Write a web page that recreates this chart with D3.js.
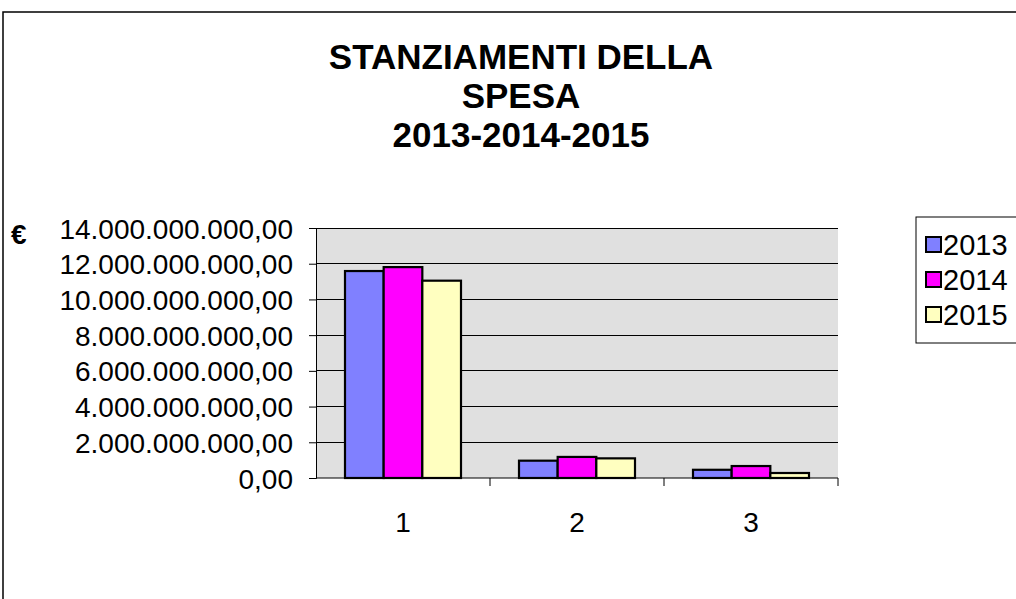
<!DOCTYPE html>
<html>
<head>
    <meta charset="utf-8">
    <title>Stanziamenti della spesa</title>
    <script src="https://d3js.org/d3.v7.min.js"></script>
    <style>
        body { margin: 0; padding: 0; background: #fff; }
        text { font-family: Arial, "Liberation Sans", sans-serif; fill: #000; }
    </style>
</head>
<body>
    <svg width="1016" height="599"></svg>
    <script>
        // data (euro)
        const categories = ["1", "2", "3"];
        const years = ["2013", "2014", "2015"];
        const values2013 = [11590000000, 970000000, 460000000];
        const values2014 = [11810000000, 1180000000, 670000000];
        const values2015 = [11050000000, 1100000000, 280000000];
        const yTicks = [0, 2e9, 4e9, 6e9, 8e9, 10e9, 12e9, 14e9];
        const titleLines = ["STANZIAMENTI DELLA", "SPESA", "2013-2014-2015"];
        const colors = ["#8080ff", "#ff00ff", "#ffffc0"];

        const seriesValues = [values2013, values2014, values2015];
        const data = categories.map((c, i) => ({
            cat: c,
            vals: years.map((y, j) => ({ year: y, value: seriesValues[j][i], color: colors[j] }))
        }));

        const svg = d3.select("svg");
        const plot = { left: 316, right: 838, top: 228, bottom: 478 };

        // outer chart frame (runs off the page right/bottom)
        svg.append("rect")
            .attr("x", 3).attr("y", 12)
            .attr("width", 1100).attr("height", 700)
            .attr("fill", "none").attr("stroke", "#000").attr("stroke-width", 1.5);

        const itLocale = d3.formatLocale({ decimal: ",", thousands: ".", grouping: [3], currency: ["", "€"] });
        const fmt = itLocale.format(",.2f");

        const x0 = d3.scaleBand().domain(categories).range([plot.left, plot.right]);
        const x1 = d3.scaleBand().domain(years).range([0, x0.bandwidth()])
            .paddingInner(0).paddingOuter(0.75);
        const y = d3.scaleLinear().domain([0, 14e9]).range([plot.bottom, plot.top]);

        // plot area background
        svg.append("rect")
            .attr("x", plot.left).attr("y", plot.top)
            .attr("width", plot.right - plot.left).attr("height", plot.bottom - plot.top)
            .attr("fill", "#e0e0e0");

        // gridlines
        svg.append("g").selectAll("line").data(yTicks.filter(d => d > 0))
            .enter().append("line")
            .attr("x1", plot.left).attr("x2", plot.right)
            .attr("y1", d => y(d)).attr("y2", d => y(d))
            .attr("stroke", "#000").attr("stroke-width", 1).attr("shape-rendering", "crispEdges");

        // bars
        const groups = svg.append("g").selectAll("g").data(data)
            .enter().append("g")
            .attr("transform", d => `translate(${x0(d.cat)},0)`);
        groups.selectAll("rect").data(d => d.vals)
            .enter().append("rect")
            .attr("x", d => x1(d.year))
            .attr("y", d => y(d.value))
            .attr("width", x1.bandwidth())
            .attr("height", d => y(0) - y(d.value))
            .attr("fill", d => d.color)
            .attr("stroke", "#000").attr("stroke-width", 2.2);

        // y axis
        const yAxis = svg.append("g")
            .attr("transform", `translate(${plot.left},0)`)
            .call(d3.axisLeft(y).tickValues(yTicks).tickFormat(fmt).tickSize(7).tickPadding(16));
        yAxis.select(".domain").attr("stroke", "#000");
        yAxis.selectAll("text").style("font-size", "28px").attr("dy", "0.36em");

        // x axis
        const xAxis = svg.append("g")
            .attr("transform", `translate(0,${plot.bottom})`)
            .call(d3.axisBottom(x0).tickSize(0).tickPadding(34));
        xAxis.select(".domain").attr("d", `M${plot.left},0H${plot.right}`);
        xAxis.selectAll("text").style("font-size", "28px");
        // category separator ticks
        xAxis.append("g").selectAll("line").data(categories)
            .enter().append("line")
            .attr("x1", d => x0(d) + x0.bandwidth()).attr("x2", d => x0(d) + x0.bandwidth())
            .attr("y1", 0).attr("y2", 8)
            .attr("stroke", "#000");

        // euro symbol
        svg.append("text")
            .attr("x", 11).attr("y", 244)
            .style("font-size", "28px").style("font-weight", "bold")
            .text("€");

        // title
        svg.append("g").selectAll("text").data(titleLines)
            .enter().append("text")
            .attr("x", 521)
            .attr("y", (d, i) => 69 + i * 39)
            .attr("text-anchor", "middle")
            .style("font-size", "35px").style("font-weight", "bold")
            .text(d => d);

        // legend
        const legend = svg.append("g").attr("transform", "translate(916,217)");
        legend.append("rect")
            .attr("x", 0).attr("y", 0).attr("width", 140).attr("height", 126)
            .attr("fill", "#fff").attr("stroke", "#000").attr("stroke-width", 1);
        const items = legend.selectAll("g.item").data(years)
            .enter().append("g").attr("class", "item")
            .attr("transform", (d, i) => `translate(0,${28 + i * 35})`);
        items.append("rect")
            .attr("x", 10).attr("y", -8).attr("width", 15).attr("height", 15)
            .attr("fill", (d, i) => colors[i])
            .attr("stroke", "#000").attr("stroke-width", 2);
        items.append("text")
            .attr("x", 27).attr("y", 10)
            .style("font-size", "29px")
            .text(d => d);
    </script>
</body>
</html>
